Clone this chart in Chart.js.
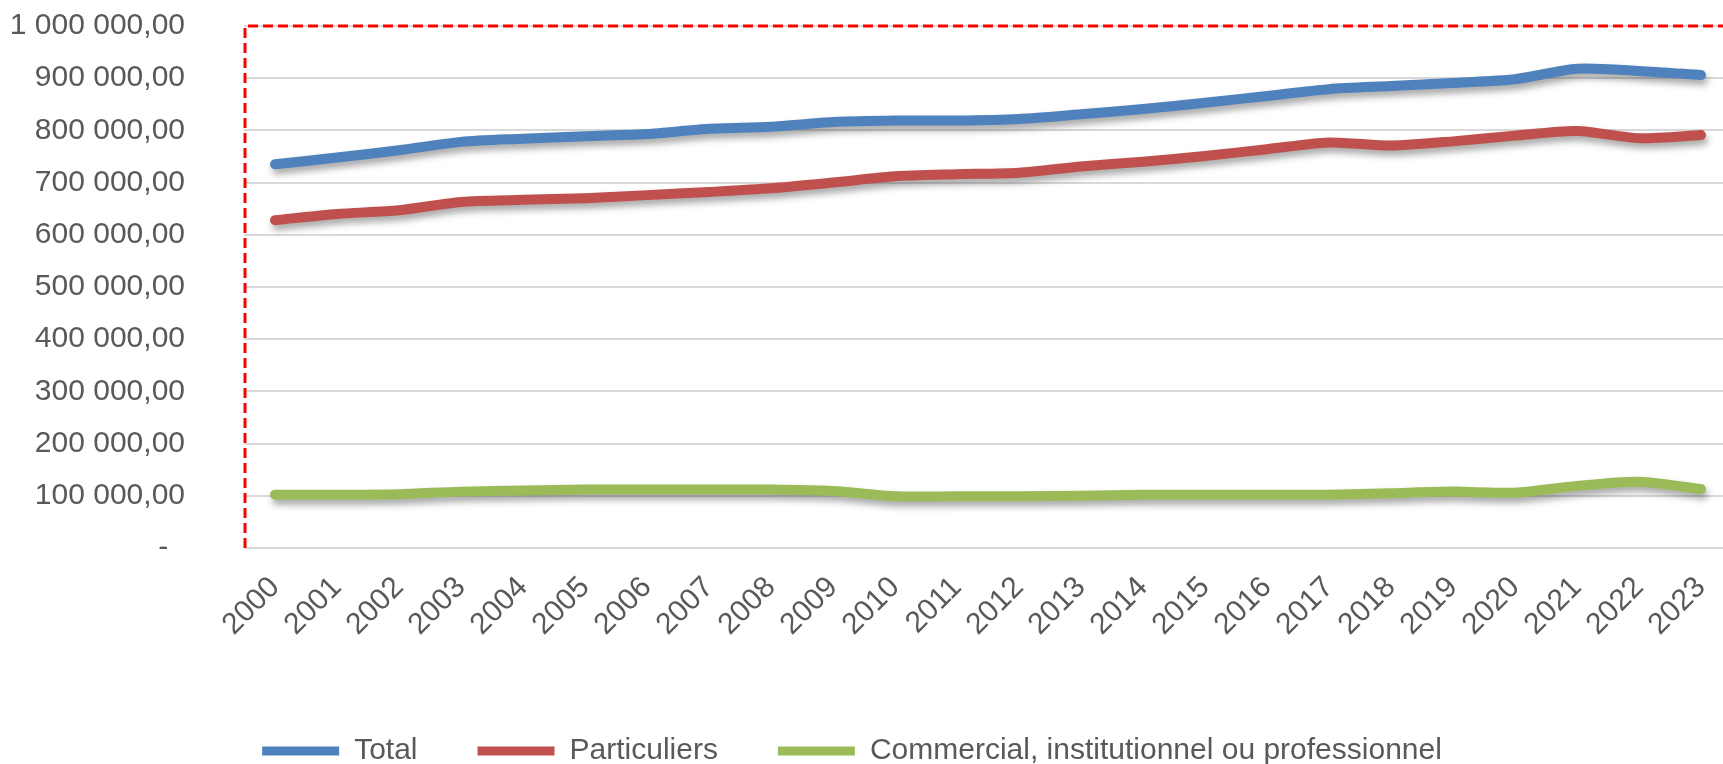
<!DOCTYPE html>
<html>
<head>
<meta charset="utf-8">
<script src="https://cdn.jsdelivr.net/npm/chart.js@4/dist/chart.umd.min.js"></script>
<style>
  html, body { margin: 0; padding: 0; background: #fff; overflow: hidden; }
  #wrap { width: 1761px; height: 827px; margin-top: -51px; position: relative; }
</style>
</head>
<body>
<div id="wrap"><canvas id="chart"></canvas></div>
<script>
// years and the three series
const years = ["2000", "2001", "2002", "2003", "2004", "2005", "2006", "2007", "2008", "2009", "2010", "2011",
  "2012", "2013", "2014", "2015", "2016", "2017", "2018", "2019", "2020", "2021", "2022", "2023"];
const total = [735000, 748000, 762000, 778000, 784000, 789000, 793000, 803000, 807000, 816000, 819000, 819000,
  822000, 831000, 841000, 853000, 866000, 879000, 885000, 891000, 898000, 918000, 914000, 906000];
const particuliers = [628000, 640000, 647000, 663000, 667000, 670000, 676000, 682000, 689000, 700000, 712000, 716000,
  719000, 731000, 740000, 751000, 764000, 777000, 771000, 779000, 790000, 799000, 785000, 791000];
const commercial = [102000, 102000, 103000, 108000, 110000, 112000, 112000, 112000, 112000, 109000, 99000, 99000,
  99000, 100000, 102000, 102000, 102000, 102000, 105000, 108000, 106000, 119000, 127000, 113000];
const yTickLabels = ["-  ", "100 000,00", "200 000,00", "300 000,00", "400 000,00", "500 000,00",
  "600 000,00", "700 000,00", "800 000,00", "900 000,00", "1 000 000,00"];

const FONT = "'Liberation Sans', Arial, sans-serif";
const GREY = '#595959';

// soft drop shadow under each line, like the Excel original
const shadow = {
  id: 'shadow',
  beforeDatasetDraw(chart) {
    const c = chart.ctx;
    c.save();
    c.shadowColor = 'rgba(0,0,0,0.35)';
    c.shadowBlur = 7;
    c.shadowOffsetX = 2;
    c.shadowOffsetY = 5;
  },
  afterDatasetDraw(chart) {
    chart.ctx.restore();
  }
};

// red dashed frame on the left and top of the plot area
const frame = {
  id: 'frame',
  beforeDatasetsDraw(chart) {
    const { ctx, chartArea: a } = chart;
    ctx.save();
    ctx.strokeStyle = '#ff0000';
    ctx.lineWidth = 3;
    ctx.setLineDash([10, 5]);
    ctx.beginPath();
    ctx.moveTo(a.left + 1, a.bottom);
    ctx.lineTo(a.left + 1, a.top);
    ctx.lineTo(a.right, a.top);
    ctx.stroke();
    ctx.restore();
  }
};

// legend sits a bit left of the canvas centre in the original
const legendShift = {
  id: 'legendShift',
  afterLayout(chart) {
    if (chart.legend) {
      chart.legend.left -= 14;
      chart.legend.right -= 14;
    }
  }
};

function line(label, data, color) {
  return {
    label: label,
    data: data,
    borderColor: color,
    backgroundColor: color,
    borderWidth: 10,
    borderCapStyle: 'round',
    borderJoinStyle: 'round',
    pointRadius: 0,
    tension: 0.25,
    fill: false
  };
}

new Chart(document.getElementById('chart'), {
  type: 'line',
  data: {
    labels: years,
    datasets: [
      line('Total', total, '#4F81BD'),
      line('Particuliers', particuliers, '#C0504D'),
      line('Commercial, institutionnel ou professionnel', commercial, '#9BBB59')
    ]
  },
  plugins: [shadow, frame, legendShift],
  options: {
    responsive: true,
    maintainAspectRatio: false,
    animation: false,
    layout: { padding: { top: 26, left: 0, right: 29, bottom: 0 } },
    plugins: {
      tooltip: { enabled: false },
      legend: {
        position: 'bottom',
        labels: {
          font: { family: FONT, size: 30 },
          color: GREY,
          boxWidth: 77,
          boxHeight: 9,
          padding: 60,
          useBorderRadius: true,
          borderRadius: 4,
          generateLabels(chart) {
            return chart.data.datasets.map((ds, i) => ({
              text: ds.label,
              fillStyle: ds.borderColor,
              strokeStyle: ds.borderColor,
              lineWidth: 0,
              datasetIndex: i,
              fontColor: GREY
            }));
          }
        }
      }
    },
    scales: {
      x: {
        offset: true,
        grid: { display: false },
        border: { display: false },
        afterFit(s) { s.height = 128; },
        ticks: {
          autoSkip: false,
          minRotation: 45,
          maxRotation: 45,
          padding: 14,
          color: GREY,
          font: { family: FONT, size: 30 }
        }
      },
      y: {
        min: 0,
        max: 1000000,
        afterFit(s) { s.width = 244; },
        grid: { color: '#d9d9d9', lineWidth: 2, drawTicks: false },
        border: { display: false },
        ticks: {
          stepSize: 100000,
          padding: 59,
          color: GREY,
          font: { family: FONT, size: 30 },
          callback: (v) => yTickLabels[Math.round(v / 100000)]
        }
      }
    }
  }
});
</script>
</body>
</html>
